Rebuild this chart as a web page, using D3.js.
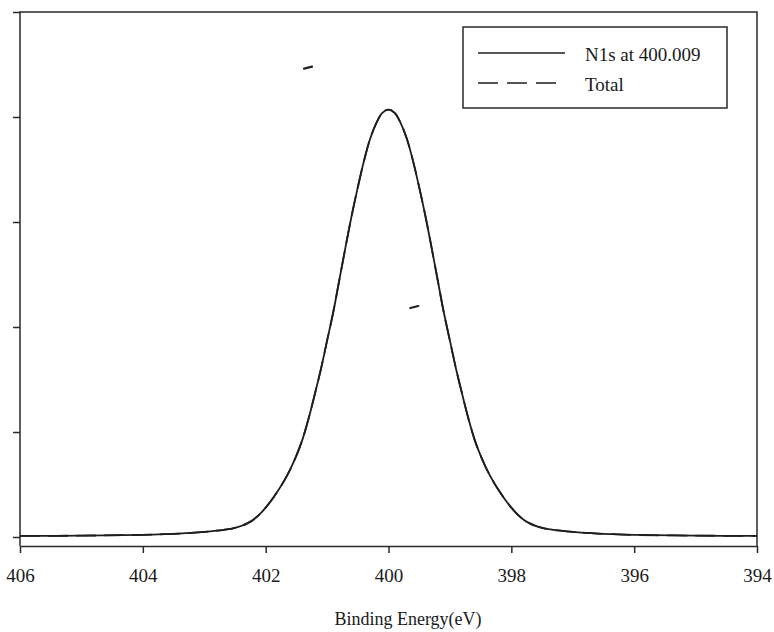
<!DOCTYPE html>
<html>
<head>
<meta charset="utf-8">
<script src="https://cdn.jsdelivr.net/npm/d3@7"></script>
<style>
  body { margin: 0; background: #fff; }
  svg { display: block; }
  .tick line, .domain { stroke: #2a2a2a; stroke-width: 1.5px; }
</style>
</head>
<body>
<div id="vis"></div>
<script>
// N1s XPS peak fit

const FRAME_WIDTH = 774;
const FRAME_HEIGHT = 632;
const SERIF = "'Liberation Serif', 'Times New Roman', Times, serif";

// binding energy (eV)
const ENERGY = [406, 405, 404, 403.6, 403.3, 403, 402.8, 402.6, 402.5, 402.4, 402.3,
                402.2, 402.1, 402, 401.9, 401.8, 401.7, 401.6, 401.5, 401.4, 401.3,
                401.2, 401.1, 401, 400.9, 400.8, 400.7, 400.6, 400.5, 400.4, 400.3,
                400.2, 400.1, 400, 399.9, 399.8, 399.7, 399.6, 399.5, 399.4, 399.3,
                399.2, 399.1, 399, 398.9, 398.8, 398.7, 398.6, 398.5, 398.4, 398.3,
                398.2, 398.1, 398, 397.9, 397.8, 397.7, 397.6, 397.5, 397.4, 397.2,
                397, 396.7, 396.4, 396, 395, 394];
// fitted N1s component (arb. units)
const N1S = [0.01, 0.013, 0.02, 0.028, 0.036, 0.048, 0.06, 0.076, 0.088, 0.105, 0.13,
             0.165, 0.215, 0.28, 0.355, 0.44, 0.535, 0.645, 0.775, 0.93, 1.13,
             1.36, 1.6, 1.87, 2.14, 2.45, 2.76, 3.06, 3.33, 3.58, 3.79,
             3.94, 4.04, 4.07, 4.04, 3.94, 3.79, 3.58, 3.33, 3.06, 2.76,
             2.45, 2.14, 1.87, 1.6, 1.36, 1.13, 0.93, 0.775, 0.645, 0.535,
             0.44, 0.355, 0.28, 0.215, 0.165, 0.13, 0.105, 0.088, 0.076, 0.06,
             0.048, 0.036, 0.028, 0.02, 0.013, 0.01];
// total envelope (single component, so same as N1s)
const TOTAL = N1S.slice();

const X_TICKS = [406, 404, 402, 400, 398, 396, 394];
const Y_TICKS = [0, 1, 2, 3, 4, 5];

const LEGEND = ["N1s at 400.009", "Total"];

// little specks on the scanned page
const SPECKS = [{x: 401.31, y: 4.47}, {x: 399.58, y: 2.19}];

const X_SCALE = d3.scaleLinear().domain([406, 394]).range([20, 757]);
const Y_SCALE = d3.scaleLinear().domain([0, 5]).range([537, 12]);
const AXIS_Y = 546;

const svg = d3.select("#vis")
              .append("svg")
              .attr("width", FRAME_WIDTH)
              .attr("height", FRAME_HEIGHT)
              .attr("font-family", SERIF);

// frame: left, top, right
svg.append("path")
   .attr("d", "M" + X_SCALE(406) + "," + AXIS_Y + "V" + Y_SCALE(5) + "H" + X_SCALE(394) + "V" + AXIS_Y)
   .attr("fill", "none")
   .attr("stroke", "#2a2a2a")
   .attr("stroke-width", 1.5);

// x axis
const xAxis = svg.append("g")
   .attr("transform", "translate(0," + AXIS_Y + ")")
   .call(d3.axisBottom(X_SCALE).tickValues(X_TICKS).tickSize(7).tickSizeOuter(0).tickFormat(d3.format("d")));
xAxis.attr("font-family", SERIF);
xAxis.selectAll("text")
   .attr("font-size", "19px")
   .attr("fill", "#1a1a1a")
   .attr("y", 36)
   .attr("dy", 0);

// y axis, ticks only
const yAxis = svg.append("g")
   .attr("transform", "translate(" + X_SCALE(406) + ",0)")
   .call(d3.axisLeft(Y_SCALE).tickValues(Y_TICKS).tickSize(7).tickSizeOuter(0).tickFormat(""));
yAxis.select(".domain").remove();

// axis title
svg.append("text")
   .attr("x", 408)
   .attr("y", 625)
   .attr("text-anchor", "middle")
   .attr("font-size", "18px")
   .attr("fill", "#1a1a1a")
   .text("Binding Energy(eV)");

// curves
const line = d3.line()
   .x((d, i) => X_SCALE(ENERGY[i]))
   .y((d) => Y_SCALE(d))
   .curve(d3.curveCatmullRom.alpha(0.5));

svg.append("path")
   .attr("d", line(N1S))
   .attr("fill", "none")
   .attr("stroke", "#1e1e1e")
   .attr("stroke-width", 1.8);

svg.append("path")
   .attr("d", line(TOTAL))
   .attr("fill", "none")
   .attr("stroke", "#1e1e1e")
   .attr("stroke-width", 1.8)
   .attr("stroke-dasharray", "20,8");

// specks
svg.selectAll(".speck")
   .data(SPECKS)
   .enter()
   .append("line")
   .attr("class", "speck")
   .attr("x1", (d) => X_SCALE(d.x) - 4)
   .attr("x2", (d) => X_SCALE(d.x) + 4)
   .attr("y1", (d) => Y_SCALE(d.y) + 1)
   .attr("y2", (d) => Y_SCALE(d.y) - 1)
   .attr("stroke", "#222")
   .attr("stroke-width", 2.2)
   .attr("stroke-linecap", "round");

// legend
const legend = svg.append("g");
legend.append("rect")
   .attr("x", 463).attr("y", 27)
   .attr("width", 264).attr("height", 81)
   .attr("fill", "#fff")
   .attr("stroke", "#2a2a2a")
   .attr("stroke-width", 1.5);

const rows = legend.selectAll(".row")
   .data(LEGEND)
   .enter()
   .append("g")
   .attr("class", "row")
   .attr("transform", (d, i) => "translate(0," + (53 + i * 30) + ")");

rows.append("line")
   .attr("x1", 478)
   .attr("x2", (d, i) => i === 0 ? 565 : 557)
   .attr("stroke", "#1e1e1e")
   .attr("stroke-width", 1.5)
   .attr("stroke-dasharray", (d, i) => i === 0 ? null : "20,9");

rows.append("text")
   .attr("x", 585)
   .attr("y", 8)
   .attr("font-size", "19px")
   .attr("fill", "#1a1a1a")
   .text((d) => d);
</script>
</body>
</html>
